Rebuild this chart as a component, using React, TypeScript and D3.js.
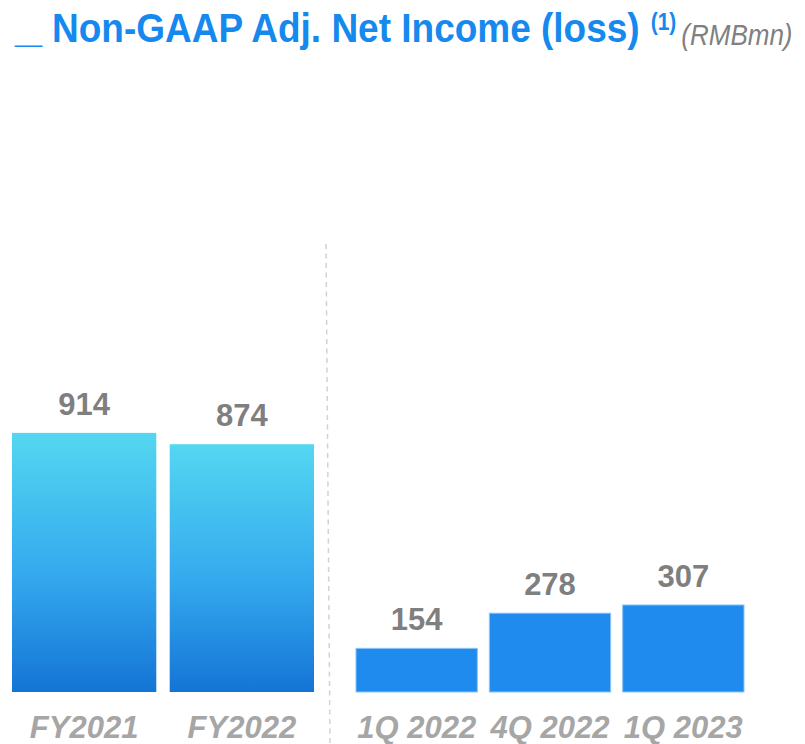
import React, { useEffect, useRef } from "react";
import * as d3 from "d3";

const annualCats: string[] = ["FY2021", "FY2022"];
const annualVals: number[] = [914, 874];
const quarterCats: string[] = ["1Q 2022", "4Q 2022", "1Q 2023"];
const quarterVals: number[] = [154, 278, 307];

export default function App() {
  const svgRef = useRef<SVGSVGElement>(null);

  useEffect(() => {
    const width = 805;
    const height = 744;
    const baseline = 692;

    const svg = d3.select(svgRef.current);
    svg.selectAll("*").remove();
    svg.attr("viewBox", `0 0 ${width} ${height}`);

    const font = "'Liberation Sans', Arial, sans-serif";

    // gradient for the annual bars
    const defs = svg.append("defs");
    const grad = defs
      .append("linearGradient")
      .attr("id", "fyGrad")
      .attr("x1", 0)
      .attr("y1", 0)
      .attr("x2", 0)
      .attr("y2", 1);
    grad.append("stop").attr("offset", "0%").attr("stop-color", "#54D7F1");
    grad.append("stop").attr("offset", "55%").attr("stop-color", "#34A9EE");
    grad.append("stop").attr("offset", "100%").attr("stop-color", "#1474D5");

    const yScale = d3.scaleLinear().domain([0, 1000]).range([baseline, baseline - 283.5]);

    const xAnnual = d3.scaleBand<string>().domain(annualCats).range([12, 314]).paddingInner(0.085);
    const xQuarter = d3.scaleBand<string>().domain(quarterCats).range([356, 744]).paddingInner(0.09);

    // title (slightly stretched vertically like the original)
    const tg = svg.append("g").attr("transform", "translate(0,42) scale(1,1.1)");
    tg.append("text")
      .attr("x", 15)
      .attr("y", 0)
      .attr("font-family", font)
      .attr("font-weight", "bold")
      .attr("font-size", 37)
      .attr("fill", "#1589EE")
      .attr("textLength", 27)
      .attr("lengthAdjust", "spacingAndGlyphs")
      .text("_");
    const title = tg
      .append("text")
      .attr("x", 52)
      .attr("y", 0)
      .attr("font-family", font)
      .attr("font-weight", "bold")
      .attr("font-size", 37)
      .attr("fill", "#1589EE");
    title.append("tspan").text("Non-GAAP Adj. Net Income (loss)");
    title
      .append("tspan")
      .attr("dx", 11)
      .attr("dy", -11)
      .attr("font-size", 21)
      .text("(1)");
    title
      .append("tspan")
      .attr("dx", 5)
      .attr("dy", 14)
      .attr("font-size", 26)
      .attr("font-weight", "normal")
      .attr("font-style", "italic")
      .attr("fill", "#808080")
      .text("(RMBmn)");

    // divider
    svg
      .append("line")
      .attr("x1", 326)
      .attr("x2", 330)
      .attr("y1", 244)
      .attr("y2", 744)
      .attr("stroke", "#d2d2d2")
      .attr("stroke-width", 1.5)
      .attr("stroke-dasharray", "5,4.5");

    const groups = [
      { cats: annualCats, vals: annualVals, x: xAnnual, fill: "url(#fyGrad)", stroke: "none" },
      { cats: quarterCats, vals: quarterVals, x: xQuarter, fill: "#1F8BEE", stroke: "#8cc4f7" },
    ];

    groups.forEach((g) => {
      const data = g.cats.map((c, i) => ({ c, v: g.vals[i] }));
      svg
        .append("g")
        .selectAll("rect")
        .data(data)
        .join("rect")
        .attr("x", (d) => g.x(d.c)!)
        .attr("width", g.x.bandwidth())
        .attr("y", (d) => yScale(d.v))
        .attr("height", (d) => baseline - yScale(d.v))
        .attr("fill", g.fill)
        .attr("stroke", g.stroke)
        .attr("stroke-width", 1);

      svg
        .append("g")
        .selectAll("text")
        .data(data)
        .join("text")
        .attr("x", (d) => g.x(d.c)! + g.x.bandwidth() / 2)
        .attr("y", (d) => yScale(d.v) - 18)
        .attr("text-anchor", "middle")
        .attr("font-family", font)
        .attr("font-weight", "bold")
        .attr("font-size", 31)
        .attr("fill", "#7F7F7F")
        .text((d) => String(d.v));

      svg
        .append("g")
        .selectAll("text")
        .data(data)
        .join("text")
        .attr("x", (d) => g.x(d.c)! + g.x.bandwidth() / 2)
        .attr("y", 738)
        .attr("text-anchor", "middle")
        .attr("font-family", font)
        .attr("font-weight", "bold")
        .attr("font-style", "italic")
        .attr("font-size", 31)
        .attr("fill", "#A6A6A6")
        .text((d) => d.c);
    });
  }, []);

  return (
    <svg
      ref={svgRef}
      width={805}
      height={744}
      style={{ position: "absolute", left: 0, top: 0, display: "block" }}
    ></svg>
  );
}
